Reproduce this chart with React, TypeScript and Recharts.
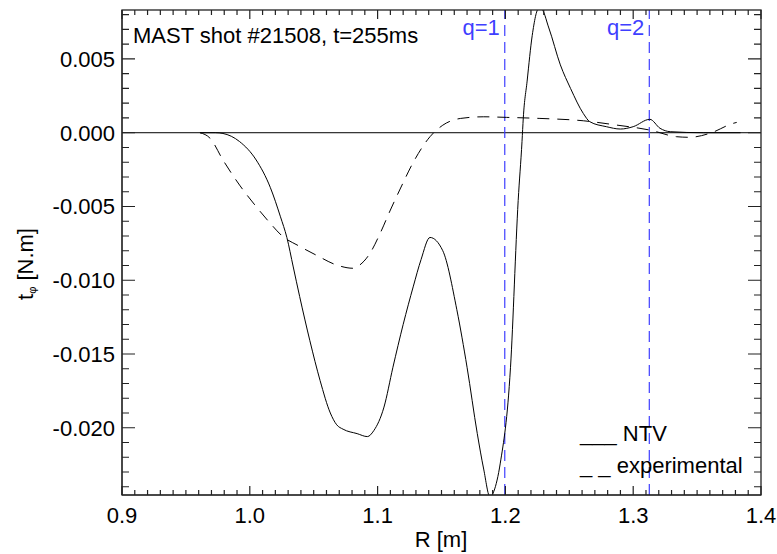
import { LineChart, Line, XAxis, YAxis, ReferenceLine } from "recharts";

// NTV torque (solid)
const ntvR = [
  0.961, 0.973, 0.979, 0.992, 1.005, 1.016, 1.024, 1.029, 1.034, 1.039, 1.047,
  1.055, 1.063, 1.068, 1.073, 1.084, 1.092, 1.097, 1.105, 1.112, 1.12, 1.128,
  1.134, 1.141, 1.151, 1.162, 1.17, 1.178, 1.183, 1.188, 1.191, 1.196, 1.204,
  1.21, 1.213, 1.214, 1.217, 1.221, 1.226, 1.228, 1.234, 1.243, 1.251, 1.261,
  1.266, 1.279, 1.29, 1.3, 1.313, 1.321, 1.329, 1.355, 1.384,
];
const ntvT = [
  0, 0, -0.00005, -0.0006, -0.00185, -0.0037, -0.0057, -0.0071, -0.0091,
  -0.0111, -0.0141, -0.0168, -0.019, -0.0198, -0.0201, -0.0204, -0.0206,
  -0.0202, -0.0186, -0.0159, -0.013, -0.0104, -0.0086, -0.0071, -0.008, -0.012,
  -0.0159, -0.0204, -0.0228, -0.0247, -0.0243, -0.0224, -0.0159, -0.0046,
  -0.0006, 0.001, 0.0035, 0.0066, 0.0084, 0.0084, 0.0071, 0.0046, 0.003,
  0.0013, 0.00075, 0.00041, 0.00025, 0.00041, 0.00091, 0.0003, 0.00007, 0, 0,
];

// experimental torque (dashed)
const expR = [
  0.961, 0.969, 0.979, 0.992, 1.005, 1.016, 1.026, 1.037, 1.052, 1.068, 1.081,
  1.086, 1.094, 1.102, 1.11, 1.118, 1.128, 1.141, 1.151, 1.165, 1.183, 1.201,
  1.227, 1.261, 1.287, 1.313, 1.334, 1.344, 1.36, 1.378, 1.381,
];
const expT = [
  0, -0.00038, -0.00185, -0.00355, -0.00501, -0.00614, -0.00705, -0.00761,
  -0.0083, -0.00897, -0.00919, -0.00897, -0.00818, -0.00682, -0.00524, -0.00375,
  -0.00199, -0.00027, 0.00051, 0.00097, 0.00108, 0.00104, 0.00097, 0.00081,
  0.00052, 0.00018, -0.00027, -0.00031, -0.00004, 0.00063, 0.0007,
];

const qSurfaces = [
  { label: "q=1", r: 1.1995 },
  { label: "q=2", r: 1.3126 },
];

const xDomain = [0.9, 1.4];
const yDomain = [-0.02456, 0.00832];

// minor ticks every 0.01 in R, every 0.001 in torque
const xTicks: number[] = [];
for (let i = 90; i <= 140; i++) xTicks.push(i / 100);
const yTicks: number[] = [];
for (let i = -24; i <= 8; i++) yTicks.push(i / 1000);

const ntvData = ntvR.map((r, i) => ({ r, t: ntvT[i] }));
const expData = expR.map((r, i) => ({ r, t: expT[i] }));

const FONT = "'Liberation Sans', Arial, Helvetica, sans-serif";
const FS = 22;
const BLUE = "#3f3fff";
const AX = "#222";

// plot box, matches the chart margins / axis sizes below
const W = 777;
const H = 554;
const PL = 122;
const PR = 16;
const PT = 10;
const PB = 59;

const isMajorX = (v: number) => Math.round(v * 100) % 10 === 0;
const isMajorY = (v: number) => Math.round(v * 1000) % 5 === 0;

// ticks point inwards, mirrored on the top edge
const BottomTick = ({ x, y, payload }: any) => {
  const major = isMajorX(payload.value);
  const len = major ? 9 : 5;
  return (
    <g>
      <path d={`M${x},${y}V${y - len}M${x},${PT}V${PT + len}`} stroke={AX} strokeWidth={1.2} fill="none" />
      {major && (
        <text x={x} y={y + 28} textAnchor="middle" fontSize={FS} fontFamily={FONT} fill="#000">
          {payload.value.toFixed(1)}
        </text>
      )}
    </g>
  );
};

// ticks point inwards, mirrored on the right edge
const LeftTick = ({ x, y, payload }: any) => {
  const major = isMajorY(payload.value);
  const len = major ? 13 : 7;
  const xr = W - PR;
  return (
    <g>
      <path d={`M${x},${y}H${x + len}M${xr},${y}H${xr - len}`} stroke={AX} strokeWidth={1.2} fill="none" />
      {major && (
        <text x={x - 7} y={y + 8} textAnchor="end" fontSize={FS} fontFamily={FONT} fill="#000">
          {payload.value.toFixed(3)}
        </text>
      )}
    </g>
  );
};

const qLabel = (text: string) => (props: any) => {
  const vb = props.viewBox || {};
  return (
    <text x={vb.x - 5} y={(vb.y ?? PT) + 25} textAnchor="end" fontSize={FS} fontFamily={FONT} fill={BLUE}>
      {text}
    </text>
  );
};

export default function App() {
  return (
    <div style={{ position: "absolute", left: 0, top: 0, width: W, height: H, background: "#fff" }}>
      <LineChart width={W} height={H} margin={{ top: PT, right: PR, left: 0, bottom: 0 }}>
        <XAxis
          type="number"
          dataKey="r"
          domain={xDomain}
          ticks={xTicks}
          interval={0}
          height={PB}
          tickSize={0}
          tickMargin={0}
          tickLine={false}
          tick={<BottomTick />}
          stroke={AX}
          allowDataOverflow
        />
        <YAxis
          type="number"
          domain={yDomain}
          ticks={yTicks}
          interval={0}
          width={PL}
          tickSize={0}
          tickMargin={0}
          tickLine={false}
          tick={<LeftTick />}
          stroke={AX}
          allowDataOverflow
        />
        <ReferenceLine y={0} stroke="#000" strokeWidth={1} />
        {qSurfaces.map((q) => (
          <ReferenceLine
            key={q.label}
            x={q.r}
            stroke={BLUE}
            strokeWidth={1.2}
            strokeDasharray="11 6"
            label={qLabel(q.label)}
          />
        ))}
        <Line
          data={expData}
          dataKey="t"
          type="monotone"
          stroke="#000"
          strokeWidth={1}
          strokeDasharray="12 8"
          dot={false}
          activeDot={false}
          isAnimationActive={false}
        />
        <Line
          data={ntvData}
          dataKey="t"
          type="monotone"
          stroke="#000"
          strokeWidth={1}
          dot={false}
          activeDot={false}
          isAnimationActive={false}
        />
      </LineChart>
      <svg
        width={W}
        height={H}
        style={{ position: "absolute", left: 0, top: 0, pointerEvents: "none" }}
        fontFamily={FONT}
        fontSize={FS}
      >
        <rect
          x={PL}
          y={PT}
          width={W - PR - PL}
          height={H - PB - PT}
          fill="none"
          stroke={AX}
          strokeWidth={1.3}
        />
        <text x={133} y={43} fill="#000">MAST shot #21508, t=255ms</text>
        <text x={580} y={441} fill="#000">___ NTV</text>
        <text x={580} y={473} fill="#000">_ _ experimental</text>
        <text x={441} y={547} textAnchor="middle" fill="#000">R [m]</text>
        <text x={33} y={264} textAnchor="middle" transform="rotate(-90 33 264)" fill="#000">
          t<tspan fontSize={11} dy={3}>φ</tspan>
          <tspan dy={-3}> [N.m]</tspan>
        </text>
      </svg>
    </div>
  );
}
